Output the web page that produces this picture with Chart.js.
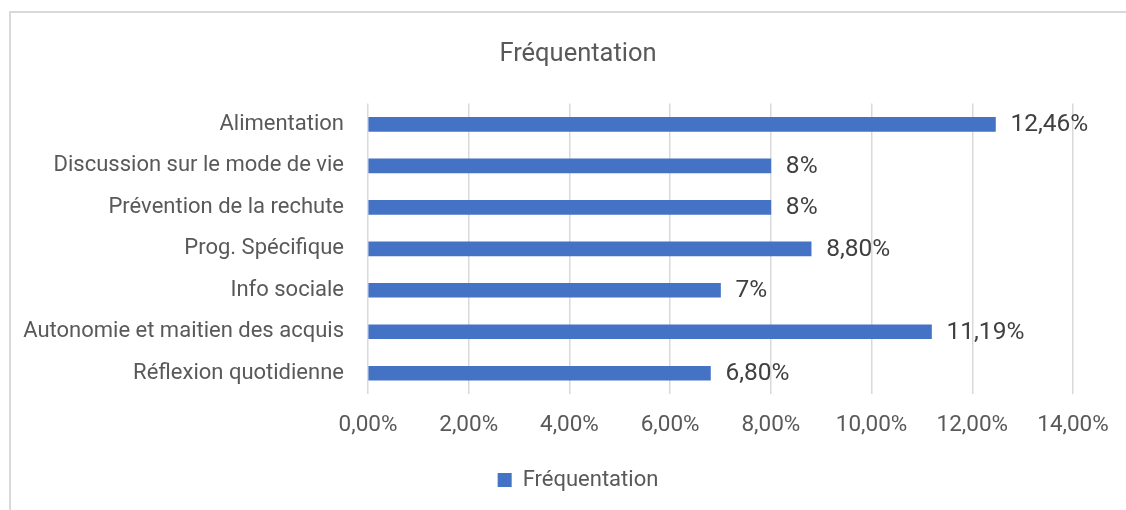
<!DOCTYPE html>
<html>
<head>
<meta charset="utf-8">
<script src="https://cdn.jsdelivr.net/npm/chart.js@4/dist/chart.umd.min.js"></script>
<style>
  body { margin: 0; background: #fff; overflow: hidden; }
  #wrap { position: relative; width: 1126px; height: 510px; overflow: hidden; }
  #frame { position: absolute; left: 9px; top: 11px; width: 1300px; height: 700px;
           border-left: 2px solid #d9d9d9; border-top: 2px solid #d9d9d9; }
  canvas { position: absolute; left: 0; top: 0; }
</style>
</head>
<body>
<div id="wrap">
  <div id="frame"></div>
  <canvas id="myChart" width="1156" height="510"></canvas>
</div>
<script>
const categories = [
  'Alimentation',
  'Discussion sur le mode de vie',
  'Prévention de la rechute',
  'Prog. Spécifique',
  'Info sociale',
  'Autonomie et maitien des acquis',
  'Réflexion quotidienne'
];
const values = [12.46, 8, 8, 8.8, 7, 11.19, 6.8];
const valueLabels = ['12,46%', '8%', '8%', '8,80%', '7%', '11,19%', '6,80%'];
const xTicks = ['0,00%', '2,00%', '4,00%', '6,00%', '8,00%', '10,00%', '12,00%', '14,00%'];

const textColor = '#595959';
const fontFamily = 'Roboto, "Liberation Sans", sans-serif';

// draws the value next to each bar
const barLabels = {
  id: 'barLabels',
  afterDatasetsDraw(chart) {
    const ctx = chart.ctx;
    const meta = chart.getDatasetMeta(0);
    ctx.save();
    ctx.font = '24.5px ' + fontFamily;
    ctx.fillStyle = '#404040';
    ctx.textAlign = 'left';
    ctx.textBaseline = 'middle';
    meta.data.forEach((bar, i) => {
      ctx.fillText(valueLabels[i], bar.x + 15, bar.y + 1);
    });
    ctx.restore();
  }
};

const data = {
  labels: categories,
  datasets: [{
    label: 'Fréquentation',
    data: values,
    backgroundColor: '#4472C4',
    barThickness: 14
  }]
};

const config = {
  type: 'bar',
  data: data,
  plugins: [barLabels],
  options: {
    indexAxis: 'y',
    responsive: false,
    animation: false,
    layout: { padding: { left: 0, right: 0, top: 0, bottom: 9 } },
    plugins: {
      title: {
        display: true,
        text: 'Fréquentation',
        color: textColor,
        font: { family: fontFamily, size: 25.5, weight: 'normal' },
        padding: { top: 39, bottom: 34 }
      },
      legend: {
        position: 'bottom',
        labels: {
          color: textColor,
          font: { family: fontFamily, size: 22 },
          boxWidth: 14,
          boxHeight: 14,
          padding: 15
        }
      },
      tooltip: { enabled: false }
    },
    scales: {
      x: {
        min: 0,
        max: 14,
        ticks: {
          stepSize: 2,
          color: textColor,
          font: { family: fontFamily, size: 22.5 },
          padding: 18,
          maxRotation: 0,
          callback: (v, i) => xTicks[i]
        },
        grid: { color: '#d9d9d9', lineWidth: 1.5, drawTicks: false },
        border: { display: false },
        afterFit: (scale) => { scale.height = 60; }
      },
      y: {
        ticks: {
          color: textColor,
          font: { family: fontFamily, size: 22 },
          padding: 24
        },
        grid: { display: false, drawTicks: false },
        border: { display: false },
        afterFit: (scale) => { scale.width = 368; }
      },
      // empty right-hand spacer so title and legend centre like the original
      yRight: {
        type: 'category',
        position: 'right',
        ticks: { display: false },
        grid: { display: false, drawTicks: false },
        border: { display: false },
        afterFit: (scale) => { scale.width = 83; }
      }
    }
  }
};

const myChart = new Chart(document.getElementById('myChart'), config);
</script>
</body>
</html>
